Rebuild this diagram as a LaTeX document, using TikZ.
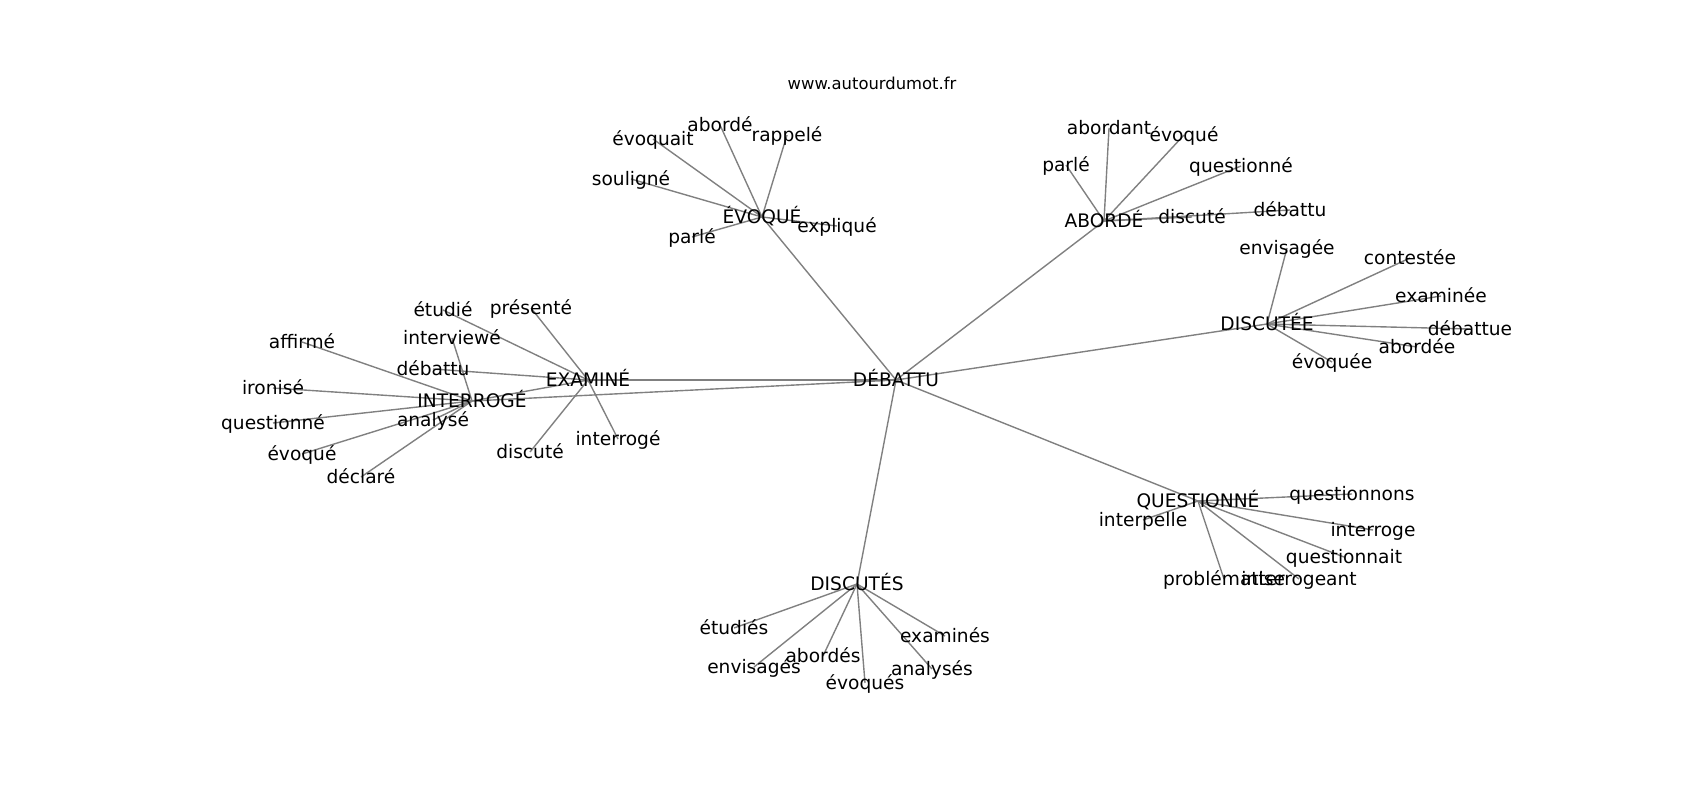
\documentclass[tikz,border=0pt]{standalone}
\usepackage{fontspec}
\setmainfont{DejaVu Sans}
\usetikzlibrary{backgrounds}
\newcommand{\wordfont}{\fontsize{13.4}{16}\selectfont}
\newcommand{\sitefont}{\fontsize{11.8}{14}\selectfont}
\tikzset{
  word/.style={font=\wordfont, inner sep=0pt, text height=11.6pt, text depth=1.8pt},
  link/.style={draw=gray, line width=1pt}
}

\begin{document}
\begin{tikzpicture}[x=0.72pt, y=-0.72pt]
\useasboundingbox (0,0) rectangle (1700,800);
\node [font=\sitefont, inner sep=0pt] (site) at (872,83) {www.autourdumot.fr};

\node [word] (debattu) at (896,380) {DÉBATTU};
\node [word] (evoque) at (762,217) {ÉVOQUÉ};
\node [word] (aborde) at (1104,221) {ABORDÉ};
\node [word] (discutee) at (1267,324) {DISCUTÉE};
\node [word] (questionne) at (1198,501) {QUESTIONNÉ};
\node [word] (discutes) at (857,584) {DISCUTÉS};
\node [word] (examine) at (588,380) {EXAMINÉ};
\node [word] (interroge) at (472,401) {INTERROGÉ};

\node [word] (ev-evoquait) at (653,139) {évoquait};
\node [word] (ev-aborde) at (720,125) {abordé};
\node [word] (ev-rappele) at (787,135) {rappelé};
\node [word] (ev-souligne) at (631,179) {souligné};
\node [word] (ev-parle) at (692,237) {parlé};
\node [word] (ev-explique) at (837,226) {expliqué};

\node [word] (ab-abordant) at (1109,128) {abordant};
\node [word] (ab-evoque) at (1184,135) {évoqué};
\node [word] (ab-parle) at (1066,165) {parlé};
\node [word] (ab-questionne) at (1241,166) {questionné};
\node [word] (ab-discute) at (1192,217) {discuté};
\node [word] (ab-debattu) at (1290,210) {débattu};

\node [word] (de-envisagee) at (1287,248) {envisagée};
\node [word] (de-contestee) at (1410,258) {contestée};
\node [word] (de-examinee) at (1441,296) {examinée};
\node [word] (de-debattue) at (1470,329) {débattue};
\node [word] (de-abordee) at (1417,347) {abordée};
\node [word] (de-evoquee) at (1332,362) {évoquée};

\node [word] (qu-questionnons) at (1352,494) {questionnons};
\node [word] (qu-interpelle) at (1143,520) {interpelle};
\node [word] (qu-interroge) at (1373,530) {interroge};
\node [word] (qu-questionnait) at (1344,557) {questionnait};
\node [word] (qu-problematise) at (1224,579) {problématise};
\node [word] (qu-interrogeant) at (1299,579) {interrogeant};

\node [word] (ds-etudies) at (734,628) {étudiés};
\node [word] (ds-envisages) at (754,667) {envisagés};
\node [word] (ds-abordes) at (823,656) {abordés};
\node [word] (ds-evoques) at (865,683) {évoqués};
\node [word] (ds-analyses) at (932,669) {analysés};
\node [word] (ds-examines) at (945,636) {examinés};

\node [word] (ex-etudie) at (443,310) {étudié};
\node [word] (ex-presente) at (531,308) {présenté};
\node [word] (ex-debattu) at (433,369) {débattu};
\node [word] (ex-discute) at (530,452) {discuté};
\node [word] (ex-interroge) at (618,439) {interrogé};

\node [word] (in-affirme) at (302,342) {affirmé};
\node [word] (in-interviewe) at (452,338) {interviewé};
\node [word] (in-ironise) at (273,388) {ironisé};
\node [word] (in-questionne) at (273,423) {questionné};
\node [word] (in-evoque) at (302,454) {évoqué};
\node [word] (in-declare) at (361,477) {déclaré};
\node [word] (in-analyse) at (433,420) {analysé};

\begin{scope}[on background layer]
\fill [white] (0,0) rectangle (1700,800);
\draw [link] (debattu.center)--(evoque.center);
\draw [link] (debattu.center)--(aborde.center);
\draw [link] (debattu.center)--(discutee.center);
\draw [link] (debattu.center)--(questionne.center);
\draw [link] (debattu.center)--(discutes.center);
\draw [link] (debattu.center)--(examine.center);
\draw [link] (debattu.center)--(interroge.center);
\draw [link] (examine.center)--(interroge.center);

\draw [link] (evoque.center)--(ev-evoquait.center);
\draw [link] (evoque.center)--(ev-aborde.center);
\draw [link] (evoque.center)--(ev-rappele.center);
\draw [link] (evoque.center)--(ev-souligne.center);
\draw [link] (evoque.center)--(ev-parle.center);
\draw [link] (evoque.center)--(ev-explique.center);

\draw [link] (aborde.center)--(ab-abordant.center);
\draw [link] (aborde.center)--(ab-evoque.center);
\draw [link] (aborde.center)--(ab-parle.center);
\draw [link] (aborde.center)--(ab-questionne.center);
\draw [link] (aborde.center)--(ab-discute.center);
\draw [link] (aborde.center)--(ab-debattu.center);

\draw [link] (discutee.center)--(de-envisagee.center);
\draw [link] (discutee.center)--(de-contestee.center);
\draw [link] (discutee.center)--(de-examinee.center);
\draw [link] (discutee.center)--(de-debattue.center);
\draw [link] (discutee.center)--(de-abordee.center);
\draw [link] (discutee.center)--(de-evoquee.center);

\draw [link] (questionne.center)--(qu-questionnons.center);
\draw [link] (questionne.center)--(qu-interpelle.center);
\draw [link] (questionne.center)--(qu-interroge.center);
\draw [link] (questionne.center)--(qu-questionnait.center);
\draw [link] (questionne.center)--(qu-problematise.center);
\draw [link] (questionne.center)--(qu-interrogeant.center);

\draw [link] (discutes.center)--(ds-etudies.center);
\draw [link] (discutes.center)--(ds-envisages.center);
\draw [link] (discutes.center)--(ds-abordes.center);
\draw [link] (discutes.center)--(ds-evoques.center);
\draw [link] (discutes.center)--(ds-analyses.center);
\draw [link] (discutes.center)--(ds-examines.center);

\draw [link] (examine.center)--(ex-etudie.center);
\draw [link] (examine.center)--(ex-presente.center);
\draw [link] (examine.center)--(ex-debattu.center);
\draw [link] (examine.center)--(ex-discute.center);
\draw [link] (examine.center)--(ex-interroge.center);

\draw [link] (interroge.center)--(in-affirme.center);
\draw [link] (interroge.center)--(in-interviewe.center);
\draw [link] (interroge.center)--(in-ironise.center);
\draw [link] (interroge.center)--(in-questionne.center);
\draw [link] (interroge.center)--(in-evoque.center);
\draw [link] (interroge.center)--(in-declare.center);
\draw [link] (interroge.center)--(in-analyse.center);
\end{scope}
\end{tikzpicture}
\end{document}
